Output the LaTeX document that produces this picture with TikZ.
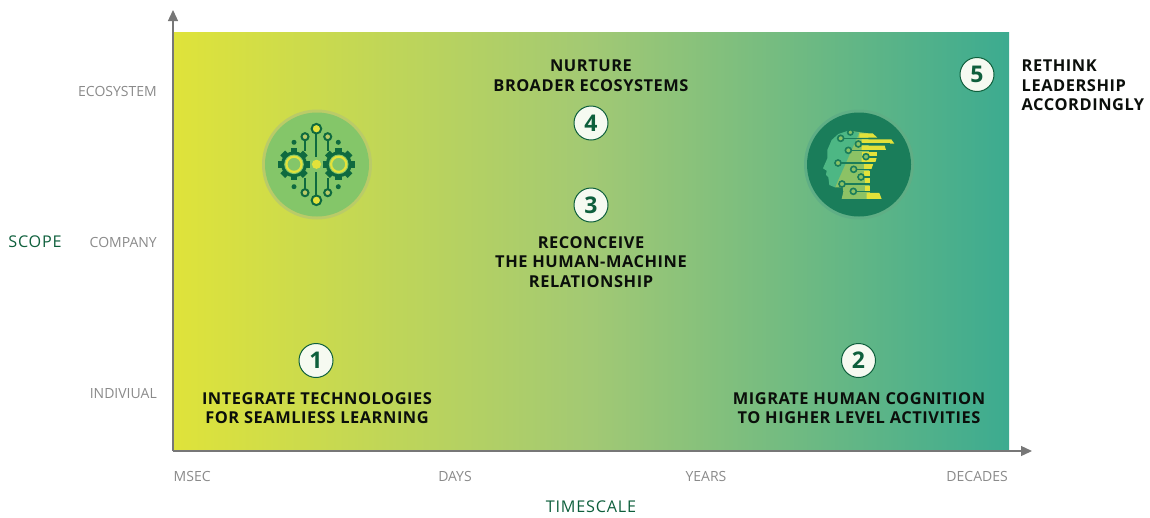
\documentclass[tikz,border=0pt]{standalone}
\usepackage{fontspec}
\setmainfont{Open Sans}
\usetikzlibrary{arrows.meta}
\definecolor{gaL}{HTML}{DFE33A}
\definecolor{gaM}{HTML}{A2C974}
\definecolor{gaR}{HTML}{3CAB90}
\definecolor{axisg}{HTML}{777777}
\definecolor{dkg}{HTML}{0E5F3C}
\definecolor{ttl}{HTML}{0B0F0B}
\definecolor{lab}{HTML}{8A8A8A}
\definecolor{disc}{HTML}{84C669}
\definecolor{disco}{HTML}{BACB68}
\definecolor{gear}{HTML}{0F6A3F}
\definecolor{yel}{HTML}{E3E23A}
\definecolor{hdisc}{HTML}{1A7D5A}
\definecolor{hdisco}{HTML}{5FAE85}
\definecolor{hteal}{HTML}{4DB784}
\definecolor{hgreen}{HTML}{8CC265}
\tikzset{
 x=1pt,y=-1pt,
 axisline/.style={draw=axisg,line width=1.3pt,-{Triangle[length=11pt,width=10pt]}},
 badge/.style={circle,draw=dkg,fill=white!90!gaM,line width=1pt,minimum size=34pt,inner sep=0pt,text=dkg,font=\fontsize{23}{23}\selectfont\bfseries},
 title/.style={align=center,text=ttl,font=\fontsize{16.4}{19.6}\selectfont\bfseries\addfontfeature{LetterSpace=3.4},inner sep=0pt},
 ticklab/.style={text=lab,font=\fontsize{14}{16}\selectfont,inner sep=0pt},
 axislab/.style={text=dkg,font=\fontsize{16.2}{18}\selectfont\addfontfeature{LetterSpace=5},inner sep=0pt},
 wire/.style={draw=gear,line width=2pt},
 hwire/.style={draw=hdisc,line width=1.4pt},
 hring/.style={draw=hdisc,line width=1.6pt,fill=hgreen},
 bar/.style={fill=yel},
}
\newcommand{\gearicon}[2]{%
 \foreach \a in {0,45,...,315}{\fill[gear,shift={(#1,#2)},rotate=\a] (-3.4,-16) rectangle (3.4,-10);}
 \fill[gear] (#1,#2) circle[radius=13];
 \fill[disc] (#1,#2) circle[radius=9.8];
 \draw[yel,line width=2.2pt] (#1,#2) circle[radius=7.6];
}
\newcommand{\hc}[3]{\draw[hring] (#1,#2) circle[radius=#3];}
\begin{document}
\begin{tikzpicture}
\useasboundingbox (0,0) rectangle (1150,517);
\shade[left color=gaL,right color=gaR,middle color=gaM] (173,32) rectangle (1009,451);
\coordinate (o) at (173,451);
\coordinate (ytip) at (173,10);
\coordinate (xtip) at (1032,451);
\draw[axisline] (o) -- (ytip);
\draw[axisline] (o) -- (xtip);
% brain icon
\fill[disco] (317,164.5) circle[radius=55];
\fill[disc] (317,164.5) circle[radius=52];
\gearicon{294}{164.3}
\gearicon{338.7}{164.3}
\fill[yel] (316.5,164.3) circle[radius=4.6];
\foreach \s/\yy/\yb in {-1/128.7/157,1/200.3/172}{
 \draw[wire] (316.4,\yy) -- (316.4,\yb);
 \draw[wire,fill=yel] (316.4,\yy) circle[radius=4.8];
}
\foreach \xx in {305,327.7}{
 \draw[wire] (\xx,136.7) -- (\xx,151);
 \draw[wire] (\xx,192.7) -- (\xx,178);
 \draw[wire,fill=disco] (\xx,136.7) circle[radius=3.5];
 \draw[wire,fill=disco] (\xx,192.7) circle[radius=3.5];
}
\foreach \xx in {294,338.3}{\foreach \yy in {142.3,186.7}{\fill[gear] (\xx,\yy) circle[radius=2.5];}}
% head icon
\fill[hdisco] (859,164.5) circle[radius=55];
\fill[hdisc] (859,164.5) circle[radius=52];
\begin{scope}[shift={(790,100)},x=0.3333pt,y=-0.3333pt]
 \fill[hgreen] (175,92) -- (235,100) -- (240,297) -- (155,297) -- (160,275) -- (158,262) -- (135,262) -- cycle;
 \fill[hteal] (175,92) -- (208,98) -- (135,262) -- (118,255) -- (115,232) -- (108,225) -- (110,212) -- (99,205) -- (112,175) -- (112,150) -- (125,120) -- (145,102) -- cycle;
 \fill[bar] (208,100) -- (248,100) -- (262,113) -- (208,113) -- cycle;
 \fill[bar] (215,118) -- (304,118) -- (313,131) -- (215,131) -- cycle;
 \fill[bar] (215,137) -- (284,137) -- (288,150) -- (215,150) -- cycle;
 \fill[bar] (215,155) rectangle (262,170);
 \fill[bar] (215,173) -- (260,173) -- (256,187) -- (215,187) -- cycle;
 \fill[bar] (222,191) -- (250,191) -- (244,208) -- (222,208) -- cycle;
 \fill[bar] (222,212) rectangle (240,228);
 \fill[bar] (226,232) rectangle (240,254);
 \fill[bar] (226,258) rectangle (240,275);
 \fill[bar] (230,279) -- (268,279) -- (275,297) -- (230,297) -- cycle;
 \draw[hwire] (152,115) -- (262,115);
 \draw[hwire] (205,132) -- (300,132);
 \draw[hwire] (175,151) -- (285,151);
 \draw[hwire] (228,171) -- (262,171);
 \draw[hwire] (144,189) -- (262,189);
 \draw[hwire] (191,209) -- (250,209);
 \draw[hwire] (213,231) -- (240,231);
 \draw[hwire] (156,252) -- (240,252);
 \draw[hwire] (190,275) -- (240,275);
 \hc{181}{97}{8}\hc{152}{115}{9}\hc{205}{132}{9}\hc{175}{151}{9}\hc{228}{170}{9}
 \hc{144}{189}{9}\hc{191}{208}{9}\hc{213}{231}{9}\hc{156}{252}{9}\hc{190}{274}{9}
\end{scope}
% badges
\node[badge] (b1) at (316,360.5) {1};
\node[badge] (b2) at (858.5,360.5) {2};
\node[badge] (b3) at (591,205) {3};
\node[badge] (b4) at (591,123) {4};
\node[badge] (b5) at (977,74.5) {5};
% titles
\node[title] (t1) at (317,408) {INTEGRATE TECHNOLOGIES\\FOR SEAMLIESS LEARNING};
\node[title] (t2) at (859,408) {MIGRATE HUMAN COGNITION\\TO HIGHER LEVEL ACTIVITIES};
\node[title] (t3) at (591,262) {RECONCEIVE\\THE HUMAN-MACHINE\\RELATIONSHIP};
\node[title] (t4) at (591,76) {NURTURE\\BROADER ECOSYSTEMS};
\node[title,align=left,anchor=west] (t5) at (1021.5,85.5) {RETHINK\\LEADERSHIP\\ACCORDINGLY};
% axis labels
\node[ticklab,anchor=east] (e) at (157,91) {ECOSYSTEM};
\node[ticklab,anchor=east] (c) at (157,242) {COMPANY};
\node[ticklab,anchor=east] (i) at (157,394) {INDIVIUAL};
\node[ticklab,anchor=west] (m) at (173.5,476.5) {MSEC};
\node[ticklab] (d) at (455,476.5) {DAYS};
\node[ticklab] (y) at (706,476.5) {YEARS};
\node[ticklab,anchor=east] (dc) at (1008,476.5) {DECADES};
\node[axislab] (sc) at (35,241.5) {SCOPE};
\node[axislab] (ts) at (591,506.5) {TIMESCALE};
\end{tikzpicture}
\end{document}
